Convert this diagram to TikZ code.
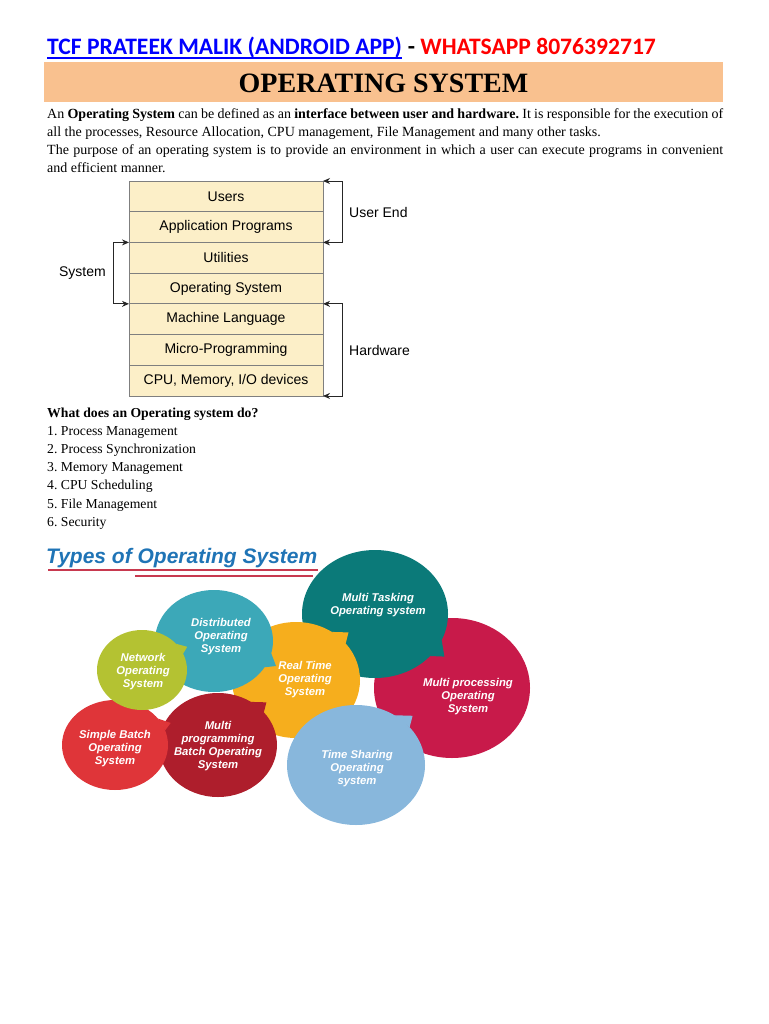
\documentclass[tikz,border=0pt]{standalone}
\usepackage{fontspec}
\setmainfont{Liberation Serif}
\newfontfamily\carlito{Carlito}
\newfontfamily\arial{Liberation Sans}
\usetikzlibrary{calc,arrows.meta}
\definecolor{peach}{HTML}{F9C18F}
\definecolor{cream}{HTML}{FCEFC8}
\definecolor{edgegray}{HTML}{7F7F7F}
\definecolor{hblue}{HTML}{0000FF}
\definecolor{hred}{HTML}{FF0000}
\definecolor{typeblue}{HTML}{1F74B6}
\definecolor{ulred}{HTML}{C8394F}
\definecolor{cNet}{HTML}{B4C232}
\definecolor{cDist}{HTML}{3CA8B8}
\definecolor{cReal}{HTML}{F6AE1D}
\definecolor{cTask}{HTML}{0B7A79}
\definecolor{cProc}{HTML}{C81A4A}
\definecolor{cBatch}{HTML}{DF3539}
\definecolor{cProg}{HTML}{AE1E2C}
\definecolor{cTime}{HTML}{88B7DC}
\newcommand\drawbubble[6]{%
  \fill[#1] (#2,#3) ellipse [x radius=#4, y radius=#5];
  \path (#2,#3) coordinate (bc) +(#6-11:#4 and #5) coordinate (ba)
        +(#6+6:#4 and #5) coordinate (bb) +(#6:#4 and #5) coordinate (bt);
  \fill[#1] (ba) -- ($(bc)!1.16!(bt)$) -- (bb) -- cycle;
}
\begin{document}
\frenchspacing
\begin{tikzpicture}[x=1pt,y=-1pt,
  layer/.style={draw=edgegray, line width=0.8pt, fill=cream, minimum width=194pt,
    minimum height=30.71pt, inner sep=0pt, outer sep=0pt,
    font=\arial\fontsize{14}{16}\selectfont},
  lbl/.style={inner sep=0pt, font=\arial\fontsize{14}{16}\selectfont},
  brk/.style={{Stealth[length=7pt,width=6pt]}-{Stealth[length=7pt,width=6pt]},
    draw=black!85, line width=0.9pt},
  body/.style={inner sep=0pt, font=\fontsize{14}{18}\selectfont},
  item/.style={inner sep=0pt, anchor=base west, font=\fontsize{13.7}{18}\selectfont},
  head/.style={anchor=base west, inner sep=0pt, font=\carlito\bfseries\fontsize{23.6}{26}\selectfont},
  btext/.style={align=center, text=white, inner sep=0pt,
    font=\arial\bfseries\itshape\fontsize{11.3}{13}\selectfont},
  redline/.style={draw=ulred, line width=2pt}
]
\useasboundingbox (0,0) rectangle (768,1024);

% header
\node[head, text=hblue] (head1) at (47,55) {TCF PRATEEK MALIK (ANDROID APP)};
\node[head] (head2) at (head1.base east) {\ - \textcolor{hred}{WHATSAPP 8076392717}};
\draw[hblue, line width=1.4pt] ($(head1.base west)+(0,3)$) -- ($(head1.base east)+(0,3)$);

% title bar
\fill[peach] (44,62) rectangle (723,102);
\node[inner sep=0pt, font=\bfseries\fontsize{28}{30}\selectfont] (title) at (383.5,83) {OPERATING SYSTEM};

% paragraph
\node[body, anchor=north west, text width=676pt, align=justify] (para) at (47,108)
 {An \textbf{Operating System} can be defined as an \textbf{interface between user and hardware.} It is responsible for the execution of\linebreak
 all the processes, Resource Allocation, CPU management, File Management and many other tasks.\par
 The purpose of an operating system is to provide an environment in which a user can execute programs in convenient\linebreak
 and efficient manner.};

% layers
\node[layer] (l1) at (226,196.36) {Users};
\node[layer] (l2) at (226,227.07) {Application Programs};
\node[layer] (l3) at (226,257.78) {Utilities};
\node[layer] (l4) at (226,288.49) {Operating System};
\node[layer] (l5) at (226,319.2) {Machine Language};
\node[layer] (l6) at (226,349.91) {Micro-Programming};
\node[layer] (l7) at (226,380.62) {CPU, Memory, I/O devices};

\draw[brk] (l1.north east) -- ++(19,0) |- (l2.south east);
\draw[brk] (l5.north east) -- ++(19,0) |- (l7.south east);
\draw[brk] (l3.north west) -- ++(-16,0) |- (l4.south west);
\node[lbl, anchor=west] (ue) at (349,212) {User End};
\node[lbl, anchor=west] (hw) at (349,350) {Hardware};
\node[lbl, anchor=east] (sy) at (106,273) {System};

% list
\node[item, font=\bfseries\fontsize{13.7}{18}\selectfont] (q) at (47,417) {What does an Operating system do?};
\node[item] (i1) at (47,435.2) {1. Process Management};
\node[item] (i2) at (47,453.4) {2. Process Synchronization};
\node[item] (i3) at (47,471.6) {3. Memory Management};
\node[item] (i4) at (47,489.8) {4. CPU Scheduling};
\node[item] (i5) at (47,508) {5. File Management};
\node[item] (i6) at (47,526.2) {6. Security};

% types of OS
\node[anchor=base west, inner sep=0pt, text=typeblue, font=\arial\bfseries\itshape\fontsize{21}{24}\selectfont]
  (types) at (46,563) {Types of Operating System};
\draw[redline] (48,570) -- (318,570);
\draw[redline] (135,575.5) -- (313,575.5);

% bubbles (back to front)
\drawbubble{cProc}{452}{688}{78}{70}{-150}
\drawbubble{cTask}{375}{614}{73}{64}{35}
\drawbubble{cReal}{296}{680}{64}{58}{-45}
\drawbubble{cDist}{214}{641}{59}{51}{25}
\drawbubble{cProg}{218}{745}{59}{52}{-45}
\drawbubble{cBatch}{115}{745}{53}{45}{-25}
\drawbubble{cNet}{142}{670}{45}{40}{-30}
\drawbubble{cTime}{356}{765}{69}{60}{-45}

\node[btext] (tNet) at (143,672) {Network\\Operating\\System};
\node[btext] (tDist) at (221,636.5) {Distributed\\Operating\\System};
\node[btext] (tReal) at (305,680) {Real Time\\Operating\\System};
\node[btext] (tTask) at (378,605) {Multi Tasking\\Operating system};
\node[btext] (tProc) at (468,697) {Multi processing\\Operating\\System};
\node[btext] (tBatch) at (115,748.5) {Simple Batch\\Operating\\System};
\node[btext] (tProg) at (218,746) {Multi\\programming\\Batch Operating\\System};
\node[btext] (tTime) at (357,769) {Time Sharing\\Operating\\system};
\end{tikzpicture}
\end{document}
